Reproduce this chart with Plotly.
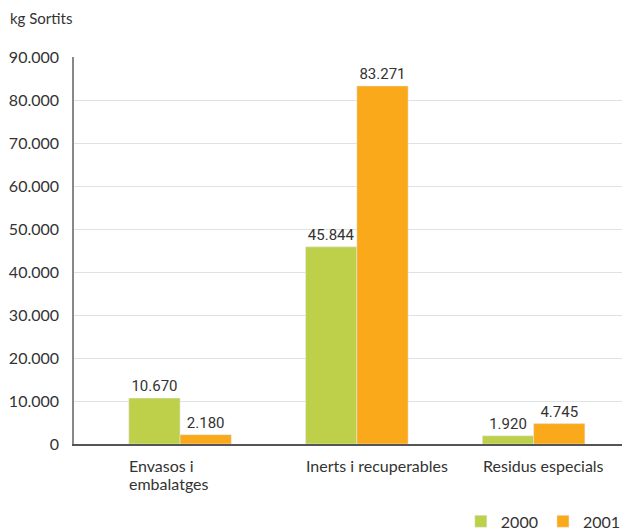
import plotly.graph_objects as go

categories = ["Envasos i<br>embalatges", "Inerts i recuperables", "Residus especials"]
years = ["2000", "2001"]
values_2000 = [10670, 45844, 1920]
values_2001 = [2180, 83271, 4745]
labels_2000 = ["10.670", "45.844", "1.920"]
labels_2001 = ["2.180", "83.271", "4.745"]
tick_vals = [0, 10000, 20000, 30000, 40000, 50000, 60000, 70000, 80000, 90000]
tick_text = ["0", "10.000", "20.000", "30.000", "40.000", "50.000", "60.000", "70.000", "80.000", "90.000"]

green = "#bed04a"
orange = "#faa91b"
txt = "#333333"
tick_font = dict(family="Lato, Open Sans, sans-serif", size=16, color=txt)
val_font = dict(family="Roboto, sans-serif", size=15, color=txt)

x_idx = list(range(len(categories)))

fig = go.Figure()
fig.add_trace(go.Bar(x=x_idx, y=values_2000, name=years[0], marker_color=green,
                     text=labels_2000, textposition="outside", textfont=val_font,
                     cliponaxis=False))
fig.add_trace(go.Bar(x=x_idx, y=values_2001, name=years[1], marker_color=orange,
                     text=labels_2001, textposition="outside", textfont=val_font,
                     cliponaxis=False))

PW, PH = 548, 387
ann = []
for i, c in enumerate(categories):
    for j, line in enumerate(c.split("<br>")):
        ann.append(dict(x=i - 0.3, y=0, xref="x", yref="y", text=line,
                        xanchor="left", yanchor="top", align="left", showarrow=False,
                        yshift=-10 - 18 * j, font=tick_font))
ann.append(dict(x=(8 - 74) / PW, y=1 + (57 - 18) / PH, xref="paper", yref="paper", text="kg Sortits",
                xanchor="left", yanchor="middle", showarrow=False,
                font=dict(family="Lato, sans-serif", size=15, color=txt)))

fig.update_layout(
    width=622, height=531,
    margin=dict(l=74, r=0, t=57, b=87, autoexpand=False),
    paper_bgcolor="white", plot_bgcolor="white",
    barmode="group", bargap=0.42, bargroupgap=0,
    showlegend=True,
    legend=dict(orientation="h",
                x=1.007, xanchor="right", y=-0.156, yanchor="top",
                font=tick_font, traceorder="normal", itemwidth=30),
    annotations=ann,
    separators=",.",
)
fig.update_xaxes(range=[-0.6, 2.5], showticklabels=False, showgrid=False, zeroline=False,
                 showline=True, linecolor="#555555", linewidth=1.5, ticks="")
fig.update_yaxes(range=[0, 90000], tickvals=tick_vals, ticktext=tick_text, tickfont=tick_font,
                 showgrid=True, gridcolor="#dde3e3", gridwidth=1.2, zeroline=False,
                 showline=True, linecolor="#888888", linewidth=1.5, ticks="", ticklabelstandoff=10)

fig.write_html("out.html")
